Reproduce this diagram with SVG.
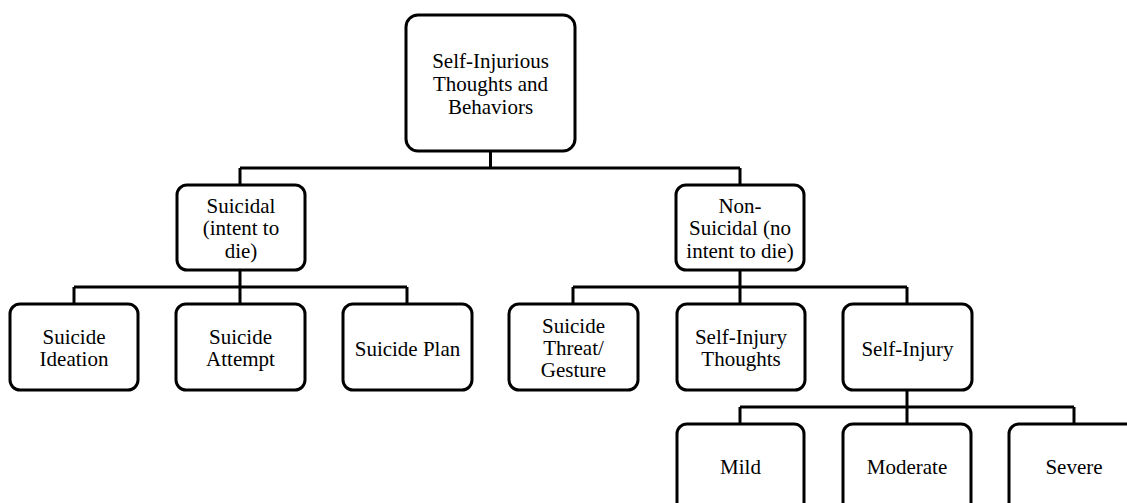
<svg xmlns="http://www.w3.org/2000/svg" width="1127" height="503" viewBox="0 0 1127 503">
<style>
.box{fill:#fff;stroke:#000;stroke-width:3}
.lbl{font-family:"Liberation Serif","Times New Roman",serif;font-size:21px;fill:#000;text-anchor:middle}
.con{fill:none;stroke:#000;stroke-width:3}
</style>
<rect width="1127" height="503" fill="#fff"/>
<g id="connectors">
<path class="con" d="M490.5 151V168M240 168H740M240 168V185M740 168V185"/>
<path class="con" d="M240 270V287M74 287H407M74 287V304M240 287V304M407 287V304"/>
<path class="con" d="M740 270V287M573 287H907M573 287V304M740 287V304M907 287V304"/>
<path class="con" d="M907 390V407M740 407H1074M740 407V424M907 407V424M1074 407V424"/>
</g>
<g id="root"><rect class="box" x="406" y="15" width="169" height="136" rx="12"/>
<text class="lbl" x="490.5" y="68">Self-Injurious</text><text class="lbl" x="490.5" y="91">Thoughts and</text><text class="lbl" x="490.5" y="114">Behaviors</text></g>
<g id="suicidal"><rect class="box" x="177" y="185" width="128" height="85" rx="10"/>
<text class="lbl" x="241" y="213">Suicidal</text><text class="lbl" x="241" y="235">(intent to</text><text class="lbl" x="241" y="258">die)</text></g>
<g id="nonsuicidal"><rect class="box" x="676" y="185" width="128" height="85" rx="10"/>
<text class="lbl" x="740" y="213">Non-</text><text class="lbl" x="740" y="235">Suicidal (no</text><text class="lbl" x="740" y="258">intent to die)</text></g>
<g id="ideation"><rect class="box" x="10" y="304" width="128" height="86" rx="10"/>
<text class="lbl" x="74" y="344">Suicide</text><text class="lbl" x="74" y="366">Ideation</text></g>
<g id="attempt"><rect class="box" x="176" y="304" width="129" height="86" rx="10"/>
<text class="lbl" x="240.5" y="344">Suicide</text><text class="lbl" x="240.5" y="366">Attempt</text></g>
<g id="plan"><rect class="box" x="343" y="304" width="129" height="86" rx="10"/>
<text class="lbl" x="407.5" y="356">Suicide Plan</text></g>
<g id="threat"><rect class="box" x="509" y="304" width="129" height="86" rx="10"/>
<text class="lbl" x="573.5" y="333">Suicide</text><text class="lbl" x="573.5" y="355">Threat/</text><text class="lbl" x="573.5" y="377">Gesture</text></g>
<g id="sithoughts"><rect class="box" x="677" y="304" width="128" height="86" rx="10"/>
<text class="lbl" x="741" y="344">Self-Injury</text><text class="lbl" x="741" y="366">Thoughts</text></g>
<g id="selfinjury"><rect class="box" x="843" y="304" width="129" height="86" rx="10"/>
<text class="lbl" x="907.5" y="356">Self-Injury</text></g>
<g id="mild"><rect class="box" x="677" y="424" width="127" height="90" rx="10"/>
<text class="lbl" x="740.5" y="474">Mild</text></g>
<g id="moderate"><rect class="box" x="843" y="424" width="128" height="90" rx="10"/>
<text class="lbl" x="907" y="474">Moderate</text></g>
<g id="severe"><rect class="box" x="1009" y="424" width="129" height="90" rx="10"/>
<text class="lbl" x="1074" y="474">Severe</text></g>
</svg>
